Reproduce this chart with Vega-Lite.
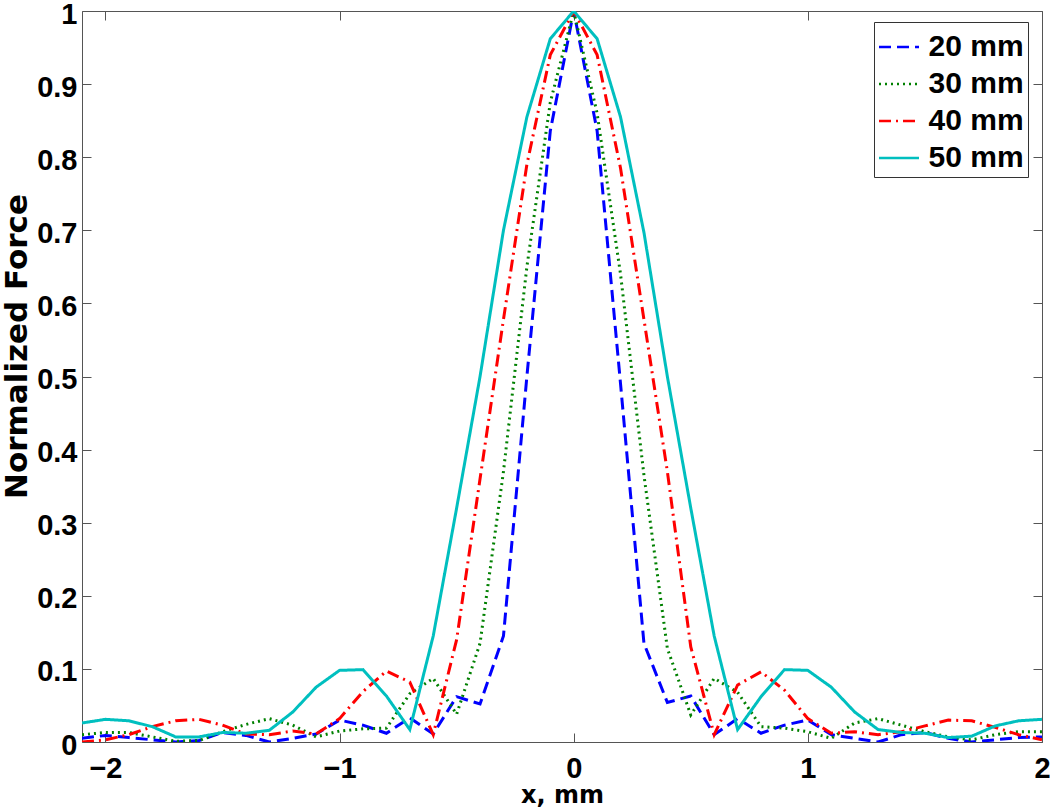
{
 "$schema": "https://vega.github.io/schema/vega-lite/v6.json",
 "width": 960,
 "height": 731,
 "autosize": {"type": "none"},
 "padding": {"left": 82, "top": 11, "right": 8, "bottom": 68},
 "background": "white",
 "config": {"view": {"stroke": null}, "font": "Liberation Sans"},
 "data": {"values": [
  {"x":-2.1,"f":0.005,"s":"20 mm"},{"x":-2.0,"f":0.009,"s":"20 mm"},{"x":-1.9,"f":0.006,"s":"20 mm"},{"x":-1.8,"f":0.003,"s":"20 mm"},{"x":-1.7,"f":0.000,"s":"20 mm"},{"x":-1.6,"f":0.002,"s":"20 mm"},{"x":-1.5,"f":0.013,"s":"20 mm"},{"x":-1.4,"f":0.009,"s":"20 mm"},{"x":-1.3,"f":0.000,"s":"20 mm"},{"x":-1.2,"f":0.005,"s":"20 mm"},{"x":-1.1,"f":0.011,"s":"20 mm"},{"x":-1.0,"f":0.030,"s":"20 mm"},{"x":-0.9,"f":0.023,"s":"20 mm"},{"x":-0.8,"f":0.012,"s":"20 mm"},{"x":-0.7,"f":0.033,"s":"20 mm"},{"x":-0.6,"f":0.011,"s":"20 mm"},{"x":-0.5,"f":0.062,"s":"20 mm"},{"x":-0.4,"f":0.052,"s":"20 mm"},{"x":-0.3,"f":0.145,"s":"20 mm"},{"x":-0.2,"f":0.500,"s":"20 mm"},{"x":-0.1,"f":0.836,"s":"20 mm"},{"x":0.0,"f":1.000,"s":"20 mm"},{"x":0.1,"f":0.836,"s":"20 mm"},{"x":0.2,"f":0.490,"s":"20 mm"},{"x":0.3,"f":0.135,"s":"20 mm"},{"x":0.4,"f":0.054,"s":"20 mm"},{"x":0.5,"f":0.063,"s":"20 mm"},{"x":0.6,"f":0.010,"s":"20 mm"},{"x":0.7,"f":0.032,"s":"20 mm"},{"x":0.8,"f":0.012,"s":"20 mm"},{"x":0.9,"f":0.023,"s":"20 mm"},{"x":1.0,"f":0.030,"s":"20 mm"},{"x":1.1,"f":0.010,"s":"20 mm"},{"x":1.2,"f":0.005,"s":"20 mm"},{"x":1.3,"f":0.000,"s":"20 mm"},{"x":1.4,"f":0.010,"s":"20 mm"},{"x":1.5,"f":0.013,"s":"20 mm"},{"x":1.6,"f":0.005,"s":"20 mm"},{"x":1.7,"f":0.000,"s":"20 mm"},{"x":1.8,"f":0.003,"s":"20 mm"},{"x":1.9,"f":0.006,"s":"20 mm"},{"x":2.0,"f":0.007,"s":"20 mm"},
  {"x":-2.1,"f":0.010,"s":"30 mm"},{"x":-2.0,"f":0.013,"s":"30 mm"},{"x":-1.9,"f":0.013,"s":"30 mm"},{"x":-1.8,"f":0.007,"s":"30 mm"},{"x":-1.7,"f":0.001,"s":"30 mm"},{"x":-1.6,"f":0.002,"s":"30 mm"},{"x":-1.5,"f":0.014,"s":"30 mm"},{"x":-1.4,"f":0.024,"s":"30 mm"},{"x":-1.3,"f":0.032,"s":"30 mm"},{"x":-1.2,"f":0.023,"s":"30 mm"},{"x":-1.1,"f":0.007,"s":"30 mm"},{"x":-1.0,"f":0.015,"s":"30 mm"},{"x":-0.9,"f":0.018,"s":"30 mm"},{"x":-0.8,"f":0.019,"s":"30 mm"},{"x":-0.7,"f":0.066,"s":"30 mm"},{"x":-0.6,"f":0.087,"s":"30 mm"},{"x":-0.5,"f":0.038,"s":"30 mm"},{"x":-0.4,"f":0.135,"s":"30 mm"},{"x":-0.3,"f":0.370,"s":"30 mm"},{"x":-0.2,"f":0.650,"s":"30 mm"},{"x":-0.1,"f":0.875,"s":"30 mm"},{"x":0.0,"f":1.000,"s":"30 mm"},{"x":0.1,"f":0.860,"s":"30 mm"},{"x":0.2,"f":0.640,"s":"30 mm"},{"x":0.3,"f":0.365,"s":"30 mm"},{"x":0.4,"f":0.128,"s":"30 mm"},{"x":0.5,"f":0.037,"s":"30 mm"},{"x":0.6,"f":0.087,"s":"30 mm"},{"x":0.7,"f":0.068,"s":"30 mm"},{"x":0.8,"f":0.021,"s":"30 mm"},{"x":0.9,"f":0.019,"s":"30 mm"},{"x":1.0,"f":0.014,"s":"30 mm"},{"x":1.1,"f":0.005,"s":"30 mm"},{"x":1.2,"f":0.026,"s":"30 mm"},{"x":1.3,"f":0.032,"s":"30 mm"},{"x":1.4,"f":0.023,"s":"30 mm"},{"x":1.5,"f":0.014,"s":"30 mm"},{"x":1.6,"f":0.007,"s":"30 mm"},{"x":1.7,"f":0.003,"s":"30 mm"},{"x":1.8,"f":0.010,"s":"30 mm"},{"x":1.9,"f":0.014,"s":"30 mm"},{"x":2.0,"f":0.014,"s":"30 mm"},
  {"x":-2.1,"f":0.000,"s":"40 mm"},{"x":-2.0,"f":0.003,"s":"40 mm"},{"x":-1.9,"f":0.010,"s":"40 mm"},{"x":-1.8,"f":0.021,"s":"40 mm"},{"x":-1.7,"f":0.029,"s":"40 mm"},{"x":-1.6,"f":0.031,"s":"40 mm"},{"x":-1.5,"f":0.023,"s":"40 mm"},{"x":-1.4,"f":0.011,"s":"40 mm"},{"x":-1.3,"f":0.010,"s":"40 mm"},{"x":-1.2,"f":0.015,"s":"40 mm"},{"x":-1.1,"f":0.011,"s":"40 mm"},{"x":-1.0,"f":0.032,"s":"40 mm"},{"x":-0.9,"f":0.069,"s":"40 mm"},{"x":-0.8,"f":0.097,"s":"40 mm"},{"x":-0.7,"f":0.082,"s":"40 mm"},{"x":-0.6,"f":0.010,"s":"40 mm"},{"x":-0.5,"f":0.140,"s":"40 mm"},{"x":-0.4,"f":0.360,"s":"40 mm"},{"x":-0.3,"f":0.578,"s":"40 mm"},{"x":-0.2,"f":0.790,"s":"40 mm"},{"x":-0.1,"f":0.940,"s":"40 mm"},{"x":0.0,"f":1.000,"s":"40 mm"},{"x":0.1,"f":0.940,"s":"40 mm"},{"x":0.2,"f":0.785,"s":"40 mm"},{"x":0.3,"f":0.578,"s":"40 mm"},{"x":0.4,"f":0.370,"s":"40 mm"},{"x":0.5,"f":0.130,"s":"40 mm"},{"x":0.6,"f":0.010,"s":"40 mm"},{"x":0.7,"f":0.078,"s":"40 mm"},{"x":0.8,"f":0.096,"s":"40 mm"},{"x":0.9,"f":0.071,"s":"40 mm"},{"x":1.0,"f":0.032,"s":"40 mm"},{"x":1.1,"f":0.012,"s":"40 mm"},{"x":1.2,"f":0.014,"s":"40 mm"},{"x":1.3,"f":0.010,"s":"40 mm"},{"x":1.4,"f":0.014,"s":"40 mm"},{"x":1.5,"f":0.022,"s":"40 mm"},{"x":1.6,"f":0.030,"s":"40 mm"},{"x":1.7,"f":0.029,"s":"40 mm"},{"x":1.8,"f":0.020,"s":"40 mm"},{"x":1.9,"f":0.010,"s":"40 mm"},{"x":2.0,"f":0.003,"s":"40 mm"},
  {"x":-2.1,"f":0.026,"s":"50 mm"},{"x":-2.0,"f":0.031,"s":"50 mm"},{"x":-1.9,"f":0.029,"s":"50 mm"},{"x":-1.8,"f":0.021,"s":"50 mm"},{"x":-1.7,"f":0.007,"s":"50 mm"},{"x":-1.6,"f":0.007,"s":"50 mm"},{"x":-1.5,"f":0.013,"s":"50 mm"},{"x":-1.4,"f":0.012,"s":"50 mm"},{"x":-1.3,"f":0.016,"s":"50 mm"},{"x":-1.2,"f":0.041,"s":"50 mm"},{"x":-1.1,"f":0.075,"s":"50 mm"},{"x":-1.0,"f":0.098,"s":"50 mm"},{"x":-0.9,"f":0.099,"s":"50 mm"},{"x":-0.8,"f":0.063,"s":"50 mm"},{"x":-0.7,"f":0.017,"s":"50 mm"},{"x":-0.6,"f":0.145,"s":"50 mm"},{"x":-0.5,"f":0.320,"s":"50 mm"},{"x":-0.4,"f":0.500,"s":"50 mm"},{"x":-0.3,"f":0.700,"s":"50 mm"},{"x":-0.2,"f":0.855,"s":"50 mm"},{"x":-0.1,"f":0.962,"s":"50 mm"},{"x":0.0,"f":1.000,"s":"50 mm"},{"x":0.1,"f":0.962,"s":"50 mm"},{"x":0.2,"f":0.855,"s":"50 mm"},{"x":0.3,"f":0.697,"s":"50 mm"},{"x":0.4,"f":0.500,"s":"50 mm"},{"x":0.5,"f":0.320,"s":"50 mm"},{"x":0.6,"f":0.145,"s":"50 mm"},{"x":0.7,"f":0.017,"s":"50 mm"},{"x":0.8,"f":0.062,"s":"50 mm"},{"x":0.9,"f":0.099,"s":"50 mm"},{"x":1.0,"f":0.098,"s":"50 mm"},{"x":1.1,"f":0.075,"s":"50 mm"},{"x":1.2,"f":0.041,"s":"50 mm"},{"x":1.3,"f":0.017,"s":"50 mm"},{"x":1.4,"f":0.013,"s":"50 mm"},{"x":1.5,"f":0.012,"s":"50 mm"},{"x":1.6,"f":0.006,"s":"50 mm"},{"x":1.7,"f":0.008,"s":"50 mm"},{"x":1.8,"f":0.022,"s":"50 mm"},{"x":1.9,"f":0.029,"s":"50 mm"},{"x":2.0,"f":0.031,"s":"50 mm"}
 ]},
 "layer": [
  {
   "mark": {"type": "line", "clip": true},
   "encoding": {
    "x": {"field": "x", "type": "quantitative",
      "scale": {"domain": [-2.1, 2], "nice": false, "zero": false},
      "axis": {"values": [-2, -1, 0, 1, 2], "format": "~g", "grid": false,
        "title": "x, mm", "titleFont": "DejaVu Sans", "titleFontSize": 24, "titleFontWeight": "bold", "titleColor": "black", "titlePadding": 0,
        "labelFont": "Liberation Sans", "labelFontSize": 29, "labelFontWeight": "bold", "labelColor": "black", "labelPadding": 21,
        "tickSize": -9, "tickColor": "#555", "domainColor": "#555", "labelFlush": false}},
    "y": {"field": "f", "type": "quantitative",
      "scale": {"domain": [0, 1], "nice": false},
      "axis": {"values": [0, 0.1, 0.2, 0.3, 0.4, 0.5, 0.6, 0.7, 0.8, 0.9, 1], "format": "~g", "grid": false,
        "title": "Normalized Force", "titleFont": "DejaVu Sans", "titleFontSize": 31, "titleFontWeight": "bold", "titleColor": "black", "titlePadding": 3, "titleY": 335,
        "labelFont": "Liberation Sans", "labelFontSize": 29, "labelFontWeight": "bold", "labelColor": "black", "labelPadding": 14, "labelOffset": 3,
        "tickSize": -9, "tickColor": "#555", "domainColor": "#555", "labelFlush": false}},
    "color": {"field": "s", "type": "nominal",
      "scale": {"domain": ["20 mm", "30 mm", "40 mm", "50 mm"], "range": ["#0000FF", "#008000", "#FF0000", "#00BFBF"]},
      "legend": {"title": null, "orient": "none", "legendX": 792, "legendY": 11, "symbolType": "stroke", "symbolSize": 1600, "symbolStrokeWidth": 2.5,
        "labelFont": "Liberation Sans", "labelFontSize": 30, "labelFontWeight": "bold", "labelColor": "black", "labelOffset": 8,
        "rowPadding": -2, "padding": 3.5, "strokeColor": "#333", "fillColor": "white"}},
    "strokeDash": {"field": "s", "type": "nominal",
      "scale": {"domain": ["20 mm", "30 mm", "40 mm", "50 mm"], "range": [[12, 6], [2, 4], [12, 5, 2, 5], [1, 0]]},
      "legend": {"title": null, "orient": "none", "legendX": 792, "legendY": 11, "symbolType": "stroke", "symbolSize": 1600, "symbolStrokeWidth": 2.5,
        "labelFont": "Liberation Sans", "labelFontSize": 30, "labelFontWeight": "bold", "labelColor": "black", "labelOffset": 8,
        "rowPadding": -2, "padding": 3.5, "strokeColor": "#333", "fillColor": "white"}},
    "strokeWidth": {"value": 3}
   }
  },
  {
   "mark": {"type": "point", "opacity": 0},
   "encoding": {
    "x": {"field": "x", "type": "quantitative",
      "axis": {"orient": "top", "values": [-2, -1, 0, 1, 2], "labels": false, "title": null, "grid": false, "tickSize": -9, "tickColor": "#555", "domainColor": "#555"}},
    "y": {"field": "f", "type": "quantitative",
      "axis": {"orient": "right", "values": [0, 0.1, 0.2, 0.3, 0.4, 0.5, 0.6, 0.7, 0.8, 0.9, 1], "labels": false, "title": null, "grid": false, "tickSize": -9, "tickColor": "#555", "domainColor": "#555"}}
   }
  }
 ],
 "resolve": {"axis": {"x": "independent", "y": "independent"}}
}
